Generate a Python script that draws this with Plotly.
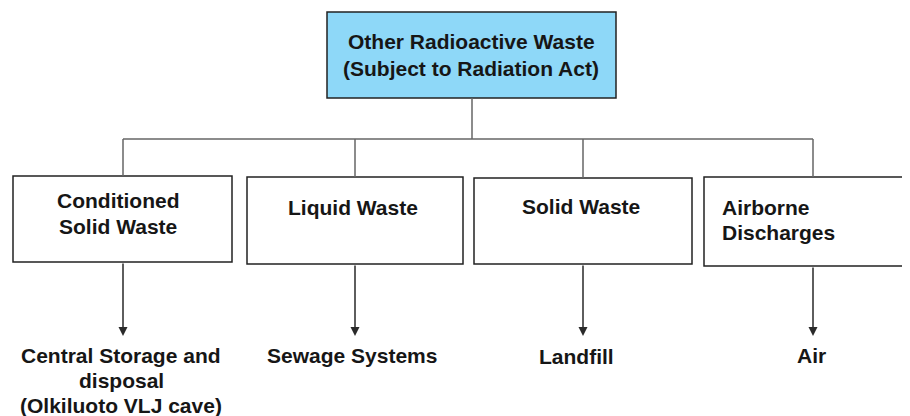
import plotly.graph_objects as go

# ---- content ----
top_label = "Other Radioactive Waste<br>(Subject to Radiation Act)"
category_labels = ["Conditioned<br>Solid Waste", "Liquid Waste", "Solid Waste", "Airborne<br>Discharges"]
destination_labels = ["Central Storage and<br>disposal<br>(Olkiluoto VLJ cave)", "Sewage Systems", "Landfill", "Air"]

# ---- layout geometry (pixel space, y downward) ----
W, H = 910, 416
OFF = 8  # page body margin compensation
top_box = dict(x0=327, y0=12, x1=616, y1=98)
boxes = [
    dict(x0=13, y0=176, x1=232, y1=262),
    dict(x0=247, y0=177, x1=463, y1=264),
    dict(x0=474, y0=178, x1=692, y1=264),
    dict(x0=704, y0=177, x1=925, y1=266),
]
connector_x = [123, 355, 583, 813]
bus_y = 139
top_x = 472
arrow_tip_y = 336
# first-line centre, alignment, line spacing
top_text = (471, 41, "center", 27)
cat_text = [(118, 200, "center", 26), (353, 207, "center", 26), (581, 206, "center", 26), (720, 207, "left", 25)]
dest_text = [(121, 355, "center", 25), (352, 355, "center", 25), (576, 356, "center", 25), (811, 355, "center", 25)]

FONT = "Liberation Sans, Arial, sans-serif"
TXT = dict(family=FONT, size=21, color="#161616", weight="bold")
LINE = "#2a2a2a"
CONN = "#666666"

fig = go.Figure()
fig.add_trace(go.Scatter(x=[OFF, W + OFF], y=[OFF, H + OFF], mode="markers", marker=dict(opacity=0),
                         hoverinfo="skip", showlegend=False))

shapes = []
shapes.append(dict(type="rect", xref="x", yref="y", **top_box, fillcolor="#8ED8F8",
                   line=dict(color="#222222", width=1.5), layer="below"))
for b in boxes:
    shapes.append(dict(type="rect", xref="x", yref="y", **b, fillcolor="white",
                       line=dict(color="#222222", width=1.5), layer="below"))
shapes.append(dict(type="line", x0=top_x, y0=top_box["y1"], x1=top_x, y1=bus_y, line=dict(color=CONN, width=1.5)))
shapes.append(dict(type="line", x0=connector_x[0], y0=bus_y, x1=connector_x[-1], y1=bus_y, line=dict(color=CONN, width=1.5)))
for cx, b in zip(connector_x, boxes):
    shapes.append(dict(type="line", x0=cx, y0=bus_y, x1=cx, y1=b["y0"], line=dict(color=CONN, width=1.5)))

annotations = []


def add_label(label, spec):
    x, y, al, step = spec
    for i, line in enumerate(label.split("<br>")):
        annotations.append(dict(x=x, y=y + i * step, text=line, showarrow=False,
                                xanchor="center" if al == "center" else "left", yanchor="middle",
                                font=TXT, align=al))


add_label(top_label, top_text)
for lab, spec in zip(category_labels, cat_text):
    add_label(lab, spec)
for lab, spec in zip(destination_labels, dest_text):
    add_label(lab, spec)

for cx, b in zip(connector_x, boxes):
    annotations.append(dict(x=cx, y=arrow_tip_y, ax=cx, ay=b["y1"], xref="x", yref="y", axref="x", ayref="y",
                            text="", showarrow=True, arrowhead=2, arrowsize=1.2, arrowwidth=1.5, arrowcolor=LINE,
                            standoff=0, startstandoff=0))

fig.update_layout(
    width=W, height=H,
    margin=dict(l=0, r=0, t=0, b=0),
    paper_bgcolor="white", plot_bgcolor="white",
    xaxis=dict(range=[OFF, W + OFF], visible=False, fixedrange=True),
    yaxis=dict(range=[H + OFF, OFF], visible=False, fixedrange=True),
    shapes=shapes, annotations=annotations, showlegend=False,
)
fig.write_html("out.html")
